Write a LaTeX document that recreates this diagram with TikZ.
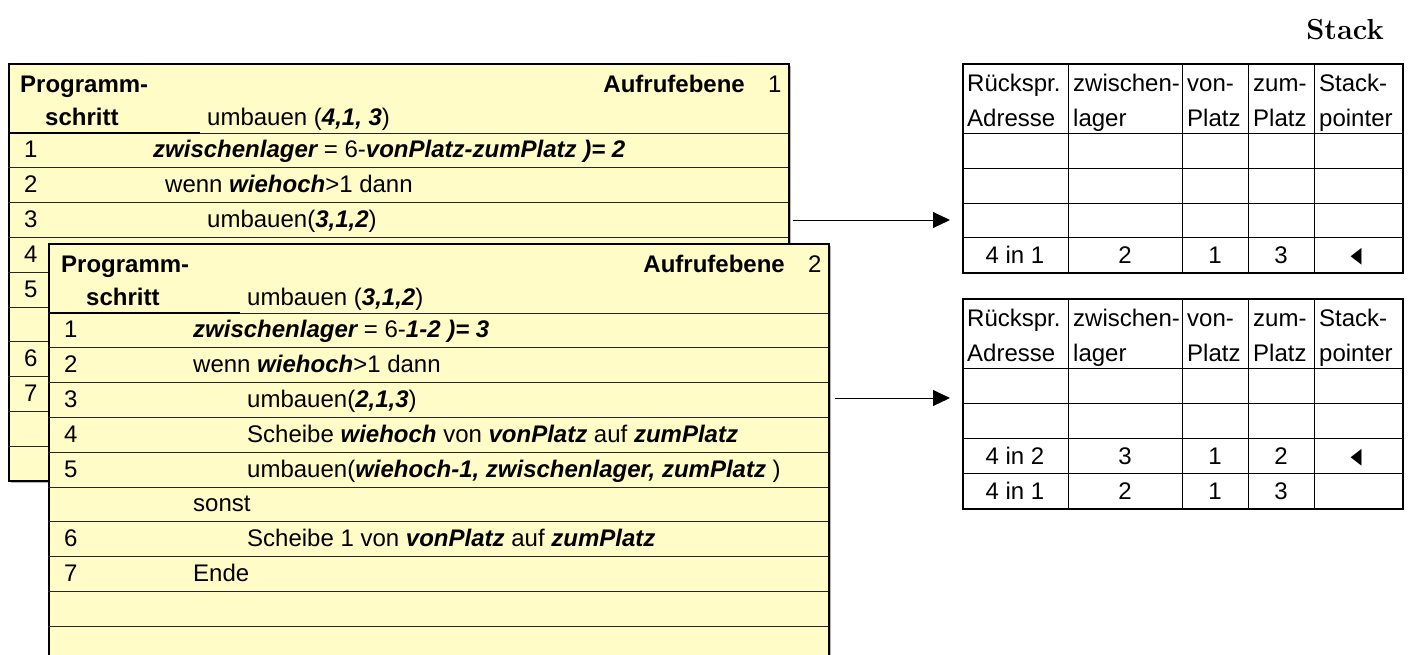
\documentclass[tikz,border=0pt]{standalone}
\usepackage{fontspec}
\usetikzlibrary{arrows.meta,shadows}
\newfontfamily\helv{Liberation Sans}
\newfontfamily\symb{DejaVu Sans}
\newcommand{\kursiv}[1]{{\bfseries\itshape #1}}
\newcommand{\zeiger}{\scalebox{0.65}[1]{\symb ◀}}
\definecolor{kartengelb}{RGB}{255,252,200}

\begin{document}
\begin{tikzpicture}[x=1pt,y=-1pt,
    every node/.style={font=\helv\fontsize{24}{28}\selectfont,inner sep=0pt},
    karte/.style={draw,line width=1.5pt,fill=kartengelb,anchor=north west,
      minimum width=780pt,minimum height=417pt,
      drop shadow={shadow xshift=2pt,shadow yshift=-2pt,opacity=0.6}},
    trenner/.style={line width=1pt,black!85},
    tabelle/.style={draw,line width=2pt,fill=white,anchor=north west,minimum width=440pt},
    gitter/.style={line width=1pt},
    pfeil/.style={-{Triangle[length=17pt,width=16pt]},line width=1pt},
    links/.style={anchor=base west},
    mitte/.style={anchor=base},
    kopf/.style={anchor=base west,font=\helv\bfseries\fontsize{24}{28}\selectfont}]
  \path[use as bounding box,clip] (0,0) rectangle (1410,654);

  % Aufrufebene 1
  \node[karte] (k1) at (8,63) {};
  \foreach \y in {133,167.8,202.6,237.4,272.2,307,341.8,376.6,411.4,446.2}
    \draw[trenner] (8,\y) -- (788,\y);
  \draw[line width=2pt] (8,133) -- (200,133);
  \draw
    (20,92) node[kopf] (k1prog){Programm-}
    (45,125) node[kopf] (k1schritt){schritt}
    (207,125) node[links] (k1kopf){umbauen (\kursiv{4,1, 3})}
    (745,92) node[kopf,anchor=base east] (k1ebene){Aufrufebene}
    (768,92) node[links] (k1nr){1};
  \draw
    (24,157.9) node[links] (k1n1){1}
    (24,192.7) node[links] (k1n2){2}
    (24,227.5) node[links] (k1n3){3}
    (24,262.3) node[links] (k1n4){4}
    (24,297.1) node[links] (k1n5){5}
    (24,366.7) node[links] (k1n6){6}
    (24,401.5) node[links] (k1n7){7};
  \draw
    (153,157.9) node[links] (k1z1){\kursiv{zwischenlager} = 6-\kursiv{vonPlatz-zumPlatz )= 2}}
    (165,192.7) node[links] (k1z2){wenn \kursiv{wiehoch}>1 dann}
    (207,227.5) node[links] (k1z3){umbauen(\kursiv{3,1,2})};

  % Aufrufebene 2
  \node[karte] (k2) at (48,243) {};
  \foreach \y in {313,347.8,382.6,417.4,452.2,487,521.8,556.6,591.4,626.2}
    \draw[trenner] (48,\y) -- (828,\y);
  \draw[line width=2pt] (48,313) -- (240,313);
  \draw
    (61,272) node[kopf] (k2prog){Programm-}
    (86,305) node[kopf] (k2schritt){schritt}
    (247,305) node[links] (k2kopf){umbauen (\kursiv{3,1,2})}
    (785,272) node[kopf,anchor=base east] (k2ebene){Aufrufebene}
    (808,272) node[links] (k2nr){2};
  \draw
    (64,337.9) node[links] (k2n1){1}
    (64,372.7) node[links] (k2n2){2}
    (64,407.5) node[links] (k2n3){3}
    (64,442.3) node[links] (k2n4){4}
    (64,477.1) node[links] (k2n5){5}
    (64,546.7) node[links] (k2n6){6}
    (64,581.5) node[links] (k2n7){7};
  \draw
    (193,337.9) node[links] (k2z1){\kursiv{zwischenlager} = 6-\kursiv{1-2 )= 3}}
    (193,372.7) node[links] (k2z2){wenn \kursiv{wiehoch}>1 dann}
    (247,407.5) node[links] (k2z3){umbauen(\kursiv{2,1,3})}
    (247,442.3) node[links] (k2z4){Scheibe \kursiv{wiehoch} von \kursiv{vonPlatz} auf \kursiv{zumPlatz}}
    (247,477.1) node[links] (k2z5){umbauen(\kursiv{wiehoch-1, zwischenlager, zumPlatz} )}
    (193,511.9) node[links] (k2sonst){sonst}
    (247,546.7) node[links] (k2z6){Scheibe 1 von \kursiv{vonPlatz} auf \kursiv{zumPlatz}}
    (193,581.5) node[links] (k2z7){Ende};

  % Stack
  \node[font=\bfseries\fontsize{29}{33}\selectfont,anchor=base east] (titel) at (1384,39) {Stack};

  \node[tabelle,minimum height=209pt] (s1) at (962,63) {};
  \foreach \y in {133,168,203,237.5}
    \draw[gitter] (962,\y) -- (1402,\y);
  \foreach \x in {1068,1182,1248,1314}
    \draw[gitter] (\x,63) -- (\x,272);
  \node[tabelle,minimum height=210pt] (s2) at (962,298) {};
  \foreach \y in {368,403,438,473}
    \draw[gitter] (962,\y) -- (1402,\y);
  \foreach \x in {1068,1182,1248,1314}
    \draw[gitter] (\x,298) -- (\x,508);

  \foreach \t/\o in {s1/0,s2/235}{
    \draw
      (967,91+\o) node[links] (\t rueck){Rückspr.}
      (967,126+\o) node[links] (\t adr){Adresse}
      (1073,91+\o) node[links] (\t zw){zwischen-}
      (1073,126+\o) node[links] (\t lag){lager}
      (1187,91+\o) node[links] (\t von){von-}
      (1187,126+\o) node[links] (\t vp){Platz}
      (1253,91+\o) node[links] (\t zum){zum-}
      (1253,126+\o) node[links] (\t zp){Platz}
      (1319,91+\o) node[links] (\t sta){Stack-}
      (1319,126+\o) node[links] (\t poi){pointer};
  }
  \draw
    (1015,263) node[mitte] (s1a){4 in 1}
    (1125,263) node[mitte] (s1b){2}
    (1215,263) node[mitte] (s1c){1}
    (1281,263) node[mitte] (s1d){3}
    (1356,256.5) node[font=\fontsize{22}{22}\selectfont] (s1p){\zeiger};
  \draw
    (1015,464) node[mitte] (s2a){4 in 2}
    (1125,464) node[mitte] (s2b){3}
    (1215,464) node[mitte] (s2c){1}
    (1281,464) node[mitte] (s2d){2}
    (1356,457.5) node[font=\fontsize{22}{22}\selectfont] (s2p){\zeiger}
    (1015,499) node[mitte] (s2e){4 in 1}
    (1125,499) node[mitte] (s2f){2}
    (1215,499) node[mitte] (s2g){1}
    (1281,499) node[mitte] (s2h){3};

  % Aufrufe
  \coordinate (a1) at (793,220);
  \coordinate (b1) at (950,220);
  \coordinate (a2) at (835,398);
  \coordinate (b2) at (950,398);
  \draw[pfeil] (a1) -- (b1);
  \draw[pfeil] (a2) -- (b2);
\end{tikzpicture}
\end{document}
